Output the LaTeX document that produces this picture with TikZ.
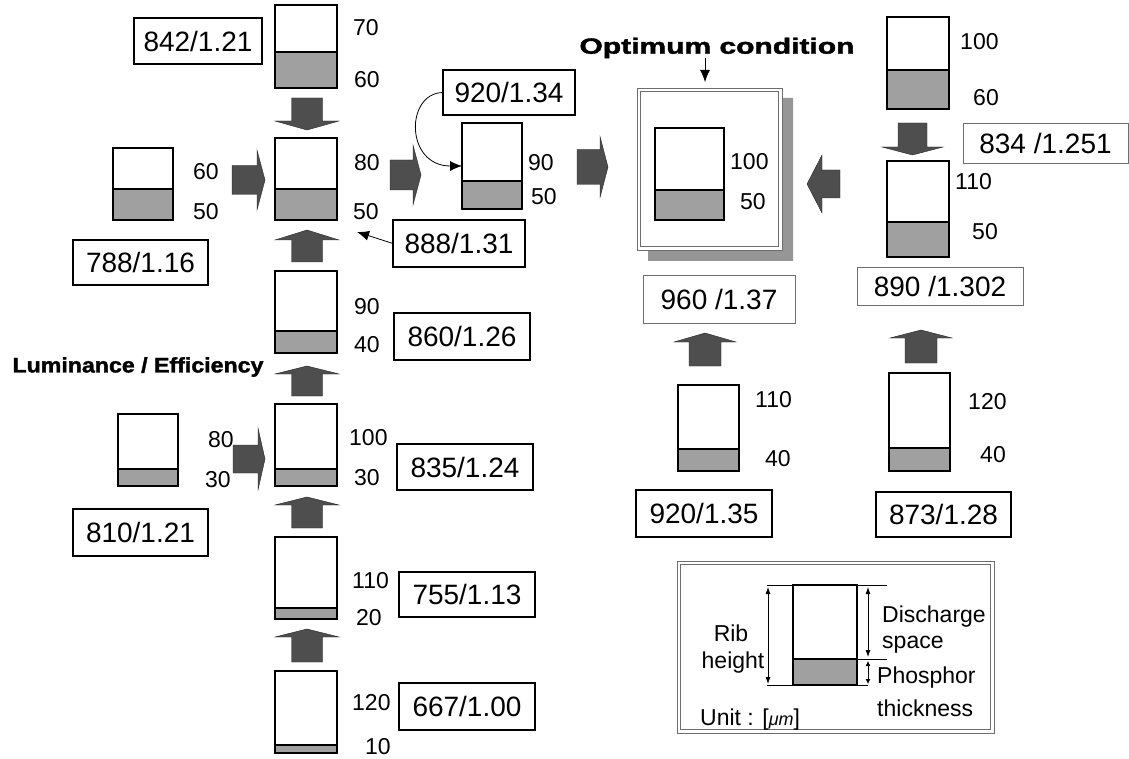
\documentclass[tikz,border=0pt]{standalone}
\usepackage{fontspec}
\setmainfont{Liberation Sans}
\newfontfamily\heavyfont[FakeBold=1.6]{Liberation Sans Bold}
\usetikzlibrary{arrows.meta}
\definecolor{phos}{RGB}{160,160,160}
\definecolor{arrfill}{RGB}{78,78,78}
\definecolor{shadowc}{RGB}{150,150,150}
\definecolor{framec}{RGB}{110,110,110}

% rib bar: name, x1, y1, x2, y2, y of phosphor top
\newcommand\ribbar[6]{%
  \pgfmathsetmacro\rbw{#4-#2}\pgfmathsetmacro\rbh{#5-#3}%
  \fill[phos] (#2,#6) rectangle (#4,#5);
  \draw[line width=1.8pt] (#2,#6) -- (#4,#6);
  \node[ribbox, minimum width=\rbw pt, minimum height=\rbh pt] (#1) at ({(#2+#4)/2},{(#3+#5)/2}) {};
}
% value box: name, x1, y1, x2, y2, style, text
\newcommand\valnode[7]{%
  \pgfmathsetmacro\vbw{#4-#2}\pgfmathsetmacro\vbh{#5-#3}%
  \node[#6, minimum width=\vbw pt, minimum height=\vbh pt] (#1) at ({(#2+#4)/2},{(#3+#5)/2}) {#7};
}
% vertical block arrow: cx, tip y, head base y, shaft end y, head half width, shaft half width
\newcommand\blkv[6]{%
  \filldraw[blockarrow] ({#1-#6},#4) -- ({#1-#6},#3) -- ({#1-#5},#3) -- (#1,#2) -- ({#1+#5},#3) -- ({#1+#6},#3) -- ({#1+#6},#4) -- cycle;
}
% horizontal block arrow: cy, tip x, head base x, shaft end x, head half width, shaft half width
\newcommand\blkh[6]{%
  \filldraw[blockarrow] (#4,{#1-#6}) -- (#3,{#1-#6}) -- (#3,{#1-#5}) -- (#2,#1) -- (#3,{#1+#5}) -- (#3,{#1+#6}) -- (#4,{#1+#6}) -- cycle;
}

\begin{document}
\begin{tikzpicture}[x=1pt,y=-1pt,
  ribbox/.style={draw, line width=2.3pt, inner sep=0pt, outer sep=0pt},
  valbox/.style={draw, line width=1.2pt, inner sep=0pt, outer sep=0pt, font=\fontsize{28}{30}\selectfont},
  valboxg/.style={valbox, draw=framec, line width=0.9pt},
  num/.style={anchor=west, inner sep=0pt, font=\fontsize{23}{25}\selectfont},
  leg/.style={anchor=west, inner sep=0pt, font=\fontsize{23}{25}\selectfont},
  blockarrow/.style={fill=arrfill, draw=black!85, line width=0.4pt},
  tipline/.style={line width=0.8pt, -{Latex[length=12pt,width=10pt]}},
  dimarrow/.style={line width=0.8pt, {Latex[length=7pt,width=5pt]}-{Latex[length=7pt,width=5pt]}},
]
\useasboundingbox (0,0) rectangle (1129,759);

% ---------------- rib bars ----------------
\ribbar{b1}{275}{5}{337}{88}{52}
\ribbar{b2}{275}{138}{337}{220}{189}
\ribbar{bl1}{113}{148}{173}{220}{189}
\ribbar{b3}{275}{271}{337}{353}{331}
\ribbar{b4}{275}{404}{337}{486}{469}
\ribbar{bl2}{118}{414}{178}{486}{469}
\ribbar{b5}{275}{537}{337}{619}{608}
\ribbar{b6}{275}{671}{337}{753}{745}
\ribbar{b9050}{462}{123}{522}{209}{181}
\ribbar{br1}{887}{17}{949}{109}{70}
\ribbar{br2}{887}{161}{949}{257}{222}
\ribbar{b11040}{678}{385}{739}{471}{449}
\ribbar{b12040}{889}{373}{950}{471}{448}

% ---------------- size labels ----------------
\node[num] at (353,28) {70};
\node[num] at (354,80) {60};
\node[num] at (354,163) {80};
\node[num] at (353,212) {50};
\node[num] at (193,172) {60};
\node[num] at (193,212) {50};
\node[num] at (354,307) {90};
\node[num] at (354,345) {40};
\node[num] at (349,438) {100};
\node[num] at (354,478) {30};
\node[num] at (208,440) {80};
\node[num] at (205,480) {30};
\node[num] at (352,581) {110};
\node[num] at (356,618) {20};
\node[num] at (352,703) {120};
\node[num] at (365,747) {10};
\node[num] at (528,163) {90};
\node[num] at (531,197) {50};
\node[num] at (960,42) {100};
\node[num] at (973,98) {60};
\node[num] at (955,182) {110};
\node[num] at (972,232) {50};
\node[num] at (755,400) {110};
\node[num] at (765,459) {40};
\node[num] at (968,402) {120};
\node[num] at (980,455) {40};

% ---------------- value boxes ----------------
\valnode{v842}{134}{18}{262}{64}{valbox}{842/1.21}
\valnode{v788}{73}{240}{208}{285}{valbox}{788/1.16}
\valnode{v888}{393}{220}{525}{267}{valbox}{888/1.31}
\valnode{v860}{394}{313}{530}{360}{valbox}{860/1.26}
\valnode{v835}{397}{444}{533}{490}{valbox}{835/1.24}
\valnode{v755}{399}{572}{535}{617}{valbox}{755/1.13}
\valnode{v667}{399}{683}{535}{730}{valbox}{667/1.00}
\valnode{v810}{73}{509}{208}{556}{valbox}{810/1.21}
\valnode{v920a}{443}{70}{575}{115}{valbox}{920/1.34}
\valnode{v960}{643}{275}{795}{323}{valboxg}{960 /1.37}
\valnode{v890}{857}{267}{1023}{305}{valboxg}{890 /1.302}
\valnode{v834}{963}{123}{1128}{163}{valboxg}{834 /1.251}
\valnode{v920b}{636}{490}{772}{537}{valbox}{920/1.35}
\valnode{v873}{876}{492}{1011}{537}{valbox}{873/1.28}

% ---------------- block arrows ----------------
\blkv{307}{130}{121}{98}{32}{15.5}
\blkv{307}{230}{240}{262}{32}{15.5}
\blkv{307}{366}{374}{396}{32}{15.5}
\blkv{307}{497}{505}{528}{32}{15.5}
\blkv{307}{629}{637}{662}{32}{15.5}
\blkv{912.5}{155}{147}{123}{30.5}{14.5}
\blkv{705}{333}{342}{366}{31}{16}
\blkv{921}{330}{338}{363}{31}{16}
\blkh{180}{265}{257}{232}{30}{14.5}
\blkh{459}{265}{258}{233}{31}{14}
\blkh{175}{421}{413}{390}{30}{15}
\blkh{167}{608}{600}{577}{30.5}{17.5}
\blkh{184}{807}{822}{840}{29}{14}

% ---------------- thin connectors ----------------
\draw[tipline] (v920a.west) .. controls (405,93) and (405,166) .. (b9050.west);
\coordinate (p888) at (357,232);
\draw[tipline] (v888.west) -- (p888);

% ---------------- optimum condition ----------------
\fill[shadowc] (782,98) -- (793,98) -- (793,261) -- (648,261) -- (648,250) -- (782,250) -- cycle;
\node[draw=framec, line width=0.8pt, fill=white, inner sep=0pt, outer sep=0pt, minimum width=145pt, minimum height=162pt] (optframe) at (709.5,169) {};
\draw[framec, line width=0.8pt] (640.5,91.5) rectangle (778.5,246.5);
\ribbar{bopt}{655}{128}{724}{220}{190}
\node[num] at (730,162) {100};
\node[num] at (740,202) {50};
\node[inner sep=0pt, font=\fontsize{22}{24}\selectfont\heavyfont] (optt) at (717,48) {\resizebox{275pt}{\height}{Optimum condition}};
\draw[tipline, shorten >=6pt] (optt.south -| 705,0) -- (optframe.north -| 705,0);

% ---------------- left title ----------------
\node[inner sep=0pt, font=\fontsize{21}{23}\selectfont\heavyfont] (lumeff) at (138,367) {\resizebox{251pt}{\height}{Luminance / Efficiency}};

% ---------------- legend ----------------
\node[draw=framec, line width=0.8pt, inner sep=0pt, outer sep=0pt, minimum width=317pt, minimum height=172pt] (legframe) at (835.5,647) {};
\draw[framec, line width=0.8pt] (680.5,564.5) rectangle (990.5,729.5);
\ribbar{lbar}{793}{585}{857}{685}{659}
\draw[line width=0.9pt] (767,585) -- (lbar.north west);
\draw[line width=0.9pt] (767,685) -- (lbar.south west);
\draw[line width=0.9pt] (lbar.north east) -- (887,585);
\draw[line width=0.9pt] (857,659) -- (887,659);
\draw[line width=0.9pt] (lbar.south east) -- (868,685);
\draw[dimarrow] (768,587) -- (768,684);
\draw[dimarrow] (868,587) -- (868,657);
\draw[line width=0.8pt, {Latex[length=5pt,width=5pt]}-{Latex[length=5pt,width=5pt]}] (868,661) -- (868,684);
\node[leg, anchor=center] at (731,633) {Rib};
\node[leg, anchor=center] at (733,663) {height};
\node[leg] at (882,617) {Discharge};
\node[leg] at (882,645) {space};
\node[leg] at (877,678) {Phosphor};
\node[leg] at (877,708) {thickness};
\node[leg] at (700,720) {Unit : [{\fontsize{18}{20}\selectfont\itshape μm}]};
\end{tikzpicture}
\end{document}
